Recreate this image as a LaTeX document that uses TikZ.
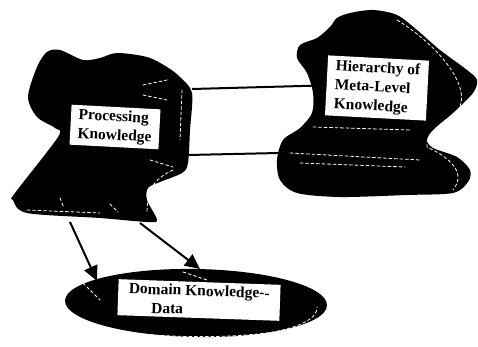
\documentclass[tikz,border=0pt]{standalone}
\usepackage{fontspec}
\setmainfont{Liberation Serif}
\usetikzlibrary{arrows.meta}
\begin{document}
\begin{tikzpicture}[x=1pt,y=-1pt,
  blob/.style={fill=black},
  shine/.style={white, line width=0.8pt, dash pattern=on 3pt off 2.5pt, line cap=round},
  link/.style={line width=2pt},
  arr/.style={line width=2pt, -{Triangle[length=15pt,width=14pt]}},
  tag/.style={fill=white, font=\fontsize{15.5}{19}\selectfont\bfseries, inner xsep=5pt, inner ysep=2pt, align=left}]
\useasboundingbox (0,0) rectangle (478,347);

% processing knowledge blob
\fill[blob] plot[smooth cycle, tension=0.5] coordinates {
  (47,52) (60,50) (83,60) (100,58) (117,53) (147,57) (167,67) (180,77)
  (192,93) (190,130) (188,163) (182,173) (160,182) (148,188) (147,200)
  (157,220) (147,222) (100,218) (27,213) (13,200) (15,193) (58,137)
  (55,128) (37,117) (28,97) (37,67)};
% meta-level knowledge blob
\fill[blob] plot[smooth cycle, tension=0.5] coordinates {
  (337,18) (350,13) (373,10) (397,15) (417,30) (440,50) (467,70) (477,80)
  (473,93) (453,113) (433,130) (427,140) (433,148) (457,157) (470,170)
  (468,182) (453,193) (407,195) (340,197) (297,193) (280,180) (277,160)
  (283,140) (300,128) (312,113) (313,93) (307,73) (297,58) (300,45)
  (317,38) (330,27)};
% domain knowledge ellipse
\fill[blob, rotate around={-1:(196,303)}] (196,303) ellipse [x radius=131, y radius=34];

% highlights
\draw[shine] (143,85) -- (167,80);
\draw[shine] (143,95) -- (167,100);
\draw[shine] (182,90) -- (180,140);
\draw[shine] (150,160) -- (173,167);
\draw[shine] (173,170) .. controls (157,178) and (147,185) .. (147,213);
\draw[shine] (27,210) -- (100,213);
\draw[shine] (60,198) -- (64,208);
\draw[shine] (110,204) -- (118,212);
\draw[shine] (397,20) .. controls (430,40) and (470,80) .. (460,107)
  .. controls (450,120) and (425,130) .. (427,147)
  .. controls (455,160) and (465,175) .. (453,190);
\draw[shine] (313,127) -- (410,130);
\draw[shine] (290,153) -- (420,160);
\draw[shine] (300,163) -- (405,167);
\draw[shine] (80,323) .. controls (130,338) and (220,340) .. (273,332)
  .. controls (300,327) and (318,318) .. (317,307);
\draw[shine] (83,283) -- (100,300);
\draw[shine] (183,272) -- (207,280);

% attachment points
\coordinate (pkTop) at (192,89);
\coordinate (pkLow) at (188,155);
\coordinate (hkLow) at (279,153);
\coordinate (pkB1) at (70,222);
\coordinate (pkB2) at (140,223);
\coordinate (dkT1) at (97,281);
\coordinate (dkT2) at (200,269);

% labels
\node[tag, rotate=-3, minimum width=89pt, minimum height=40pt] (pk) at (115,127) {Processing\\Knowledge};
\node[tag, rotate=-3, minimum width=101pt, minimum height=60pt] (hk) at (377,88) {Hierarchy of\\Meta-Level\\Knowledge};
\node[tag, rotate=-2, minimum width=162pt, minimum height=36pt] (dk) at (199,300) {Domain Knowledge-{}-\\\hspace{23pt}Data};

% connectors
\draw[link] (pkTop) -- (hk.west);
\draw[link] (pkLow) -- (hkLow);
\draw[arr] (pkB1) -- (dkT1);
\draw[arr] (pkB2) -- (dkT2);
\end{tikzpicture}
\end{document}
